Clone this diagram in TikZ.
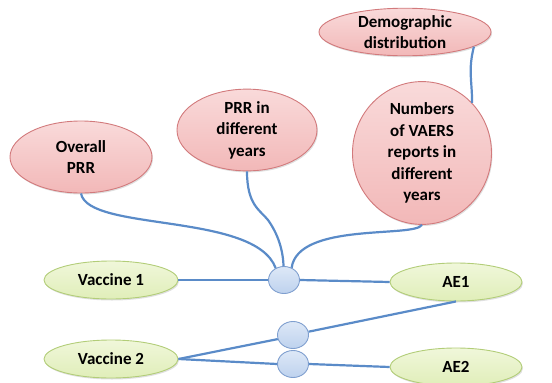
\documentclass[tikz,border=0pt]{standalone}
\usepackage{fontspec}
\setmainfont{Carlito}
\usetikzlibrary{shapes.geometric,shadows}
\definecolor{pinkfill}{HTML}{F2B8B8}
\definecolor{pinktop}{HTML}{F9DADA}
\definecolor{pinkedge}{HTML}{D27A7C}
\definecolor{greenfill}{HTML}{E0EEB9}
\definecolor{greentop}{HTML}{F0F7DA}
\definecolor{greenedge}{HTML}{B2CD78}
\definecolor{hubfill}{HTML}{BED2EE}
\definecolor{hubtop}{HTML}{DDE8F7}
\definecolor{hubedge}{HTML}{7F9FCF}
\definecolor{linkblue}{HTML}{5A8BC8}
\begin{document}
\begin{tikzpicture}[x=1pt,y=-1pt,
  every node/.style={font=\fontsize{17}{21.6}\selectfont\bfseries, align=center, inner sep=0pt},
  topic/.style={ellipse, draw=pinkedge, line width=0.9pt, top color=pinktop, bottom color=pinkfill,
    drop shadow={shadow xshift=1pt, shadow yshift=-1.5pt, opacity=0.25}},
  entity/.style={ellipse, draw=greenedge, line width=0.9pt, top color=greentop, bottom color=greenfill,
    drop shadow={shadow xshift=1pt, shadow yshift=-1.5pt, opacity=0.25},
    minimum width=134pt, minimum height=38pt},
  hub/.style={ellipse, draw=hubedge, line width=0.9pt, top color=hubtop, bottom color=hubfill,
    minimum width=31pt, minimum height=27pt},
  link/.style={draw=linkblue, line width=2.2pt}]
\useasboundingbox (0,0) rectangle (552,383);

% pink topic bubbles
\node[topic, minimum width=142pt, minimum height=72pt] (overall) at (81,157) {Overall\\PRR};
\node[topic, minimum width=140pt, minimum height=72pt] (prr) at (247,130) {PRR in\\different\\years};
\node[topic, minimum width=139pt, minimum height=129pt] (num) at (422,153) {Numbers\\of VAERS\\reports in\\different\\years};
\node[topic, minimum width=172pt, minimum height=39pt] (demo) at (405,32) {Demographic\\distribution};

% vaccines and adverse events
\node[entity] (v1) at (111,280) {Vaccine 1};
\node[entity] (v2) at (111,359) {Vaccine 2};
\node[entity, minimum width=132pt] (ae1) at (456,282) {AE1};
\node[entity, minimum width=132pt] (ae2) at (456,367) {AE2};

% association hubs
\node[hub] (h1) at (284,280) {};
\node[hub] (h2) at (293,335) {};
\node[hub] (h3) at (293,364) {};

% connectors
\draw[link] (overall.south) .. controls (88,232) and (255,212) .. (h1.125);
\draw[link] (prr.south) .. controls (247,205) and (260,210) .. (268,220)
            .. controls (278,234) and (283,250) .. (h1.92);
\draw[link] (num.south) .. controls (414,238) and (298,222) .. (h1.58);
\draw[link] (demo.-12) .. controls (468,70) and (472,80) .. (num.45);
\draw[link] (v1.east) -- (h1.west);
\draw[link] (h1.east) -- (ae1.west);
\draw[link] (ae1.south) -- (h2.12);
\draw[link] (v2.east) -- (h2.195);
\draw[link] (v2.east) -- (h3.west);
\draw[link] (h3.east) -- (ae2.west);
\end{tikzpicture}
\end{document}
